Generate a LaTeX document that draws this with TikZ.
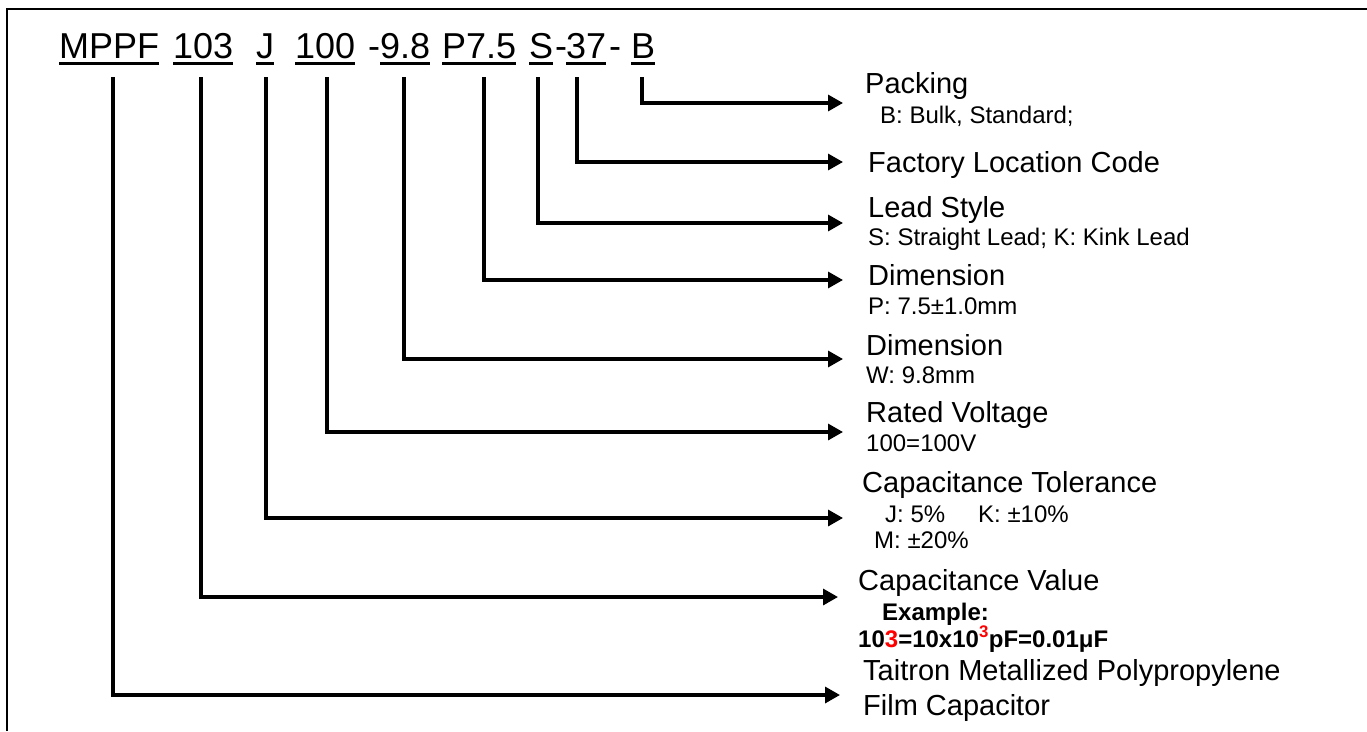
\documentclass[tikz,border=0pt]{standalone}
\usepackage{fontspec}
\setmainfont{Liberation Sans}
\usetikzlibrary{arrows.meta}
\definecolor{codered}{RGB}{255,0,0}
\begin{document}
\begin{tikzpicture}[x=1pt,y=-1pt,
  code/.style={anchor=base west,inner sep=0pt,font=\fontsize{36}{40}\selectfont},
  lbl/.style={anchor=base west,inner sep=0pt,font=\fontsize{29}{33}\selectfont},
  sub/.style={anchor=base west,inner sep=0pt,font=\fontsize{24}{28}\selectfont},
  subb/.style={anchor=base west,inner sep=0pt,font=\fontsize{24}{28}\selectfont\bfseries},
  ul/.style={line width=3pt},
  conn/.style={line width=3.3pt,line join=miter,-{Triangle[length=15pt,width=16pt]}},
  frame/.style={line width=1.5pt}]
\useasboundingbox (0,0) rectangle (1367,731);
\draw[frame] (7,731) -- (7,9) -- (1367,9);

% code segments
\node[code] (mppf) at (59,58) {MPPF};
\node[code] (c103) at (173,58) {103};
\node[code] (cJ) at (256,58) {J};
\node[code] (c100) at (295,58) {100};
\node[code] (d1) at (368,58) {-};
\node[code] (c98) at (380,58) {9.8};
\node[code] (cP) at (442,58) {P7.5};
\node[code] (cS) at (529,58) {S};
\node[code] (d2) at (555,58) {-};
\node[code] (c37) at (566,58) {37};
\node[code] (d3) at (609,58) {-};
\node[code] (cB) at (631,58) {B};
\foreach \n in {mppf,c103,cJ,c100,c98,cP,cS,c37,cB}
  \draw[ul] ([yshift=-5pt]\n.south west) -- ([yshift=-5pt]\n.south east);

% labels
\node[lbl] (lB) at (865,93) {Packing};
\node[sub] (lBs) at (880,123) {B: Bulk, Standard;};
\node[lbl] (l37) at (868,172) {Factory Location Code};
\node[lbl] (lS) at (868,217) {Lead Style};
\node[sub] (lSs) at (868,245) {S: Straight Lead; K: Kink Lead};
\node[lbl] (lP) at (868,285) {Dimension};
\node[sub] (lPs) at (868,314) {P: 7.5±1.0mm};
\node[lbl] (lW) at (866,355) {Dimension};
\node[sub] (lWs) at (866,383) {W: 9.8mm};
\node[lbl] (lV) at (866,422) {Rated Voltage};
\node[sub] (lVs) at (866,451) {100=100V};
\node[lbl] (lT) at (862,492) {Capacitance Tolerance};
\node[sub] (lTj) at (885,522) {J: 5\%};
\node[sub] (lTk) at (978,522) {K: ±10\%};
\node[sub] (lTm) at (874,548) {M: ±20\%};
\node[lbl] (lC) at (858,590) {Capacitance Value};
\node[subb] (lCe) at (882,620) {Example:};
\node[subb] (lCx) at (858,647) {10\textcolor{codered}{3}=10x10\textsuperscript{\textcolor{codered}{3}}pF=0.01μF};
\node[lbl] (lM) at (863,680) {Taitron Metallized Polypropylene};
\node[lbl] (lM2) at (863,715) {Film Capacitor};

% connector start and end points
\coordinate (sB) at (642,77);   \coordinate (tB) at (843,103);
\coordinate (s37) at (577,77);  \coordinate (t37) at (843,162);
\coordinate (sS) at (538,77);   \coordinate (tS) at (843,223);
\coordinate (sP) at (484,77);   \coordinate (tP) at (843,280);
\coordinate (s98) at (404,77);  \coordinate (t98) at (843,359);
\coordinate (s100) at (327,77); \coordinate (t100) at (843,432);
\coordinate (sJ) at (266,77);   \coordinate (tJ) at (843,518);
\coordinate (s103) at (201,77); \coordinate (t103) at (838,597);
\coordinate (sM) at (113,77);   \coordinate (tM) at (840,695);

\foreach \a/\b in {sB/tB,s37/t37,sS/tS,sP/tP,s98/t98,s100/t100,sJ/tJ,s103/t103,sM/tM}
  \draw[conn] (\a) |- (\b);
\end{tikzpicture}
\end{document}
